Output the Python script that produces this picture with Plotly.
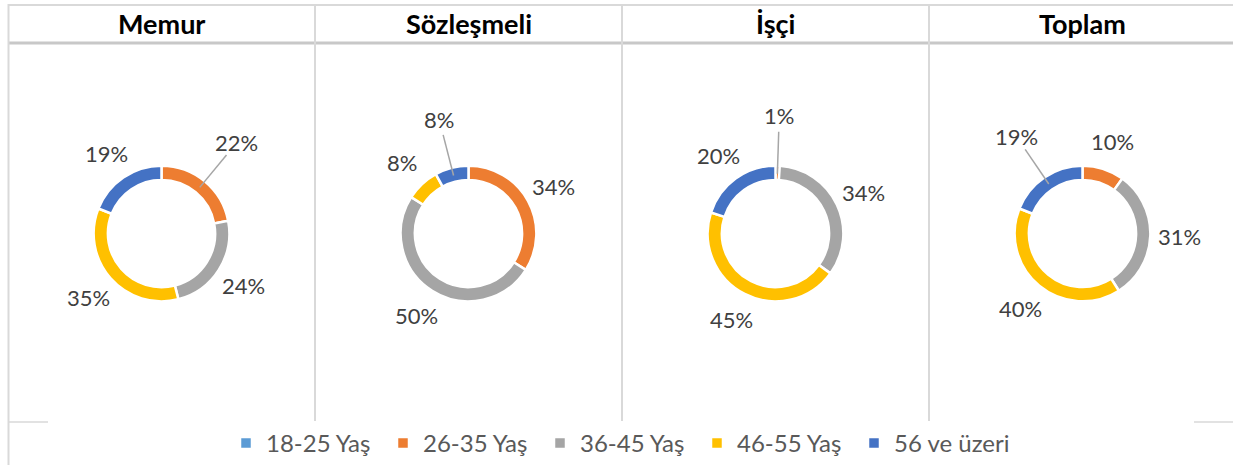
import math
import plotly.graph_objects as go

# ---------------- data ----------------
categories = ["18-25 Yaş", "26-35 Yaş", "36-45 Yaş", "46-55 Yaş", "56 ve üzeri"]
chart_titles = ["Memur", "Sözleşmeli", "İşçi", "Toplam"]
memur = [0, 22, 24, 35, 19]
sozlesmeli = [0, 34, 50, 8, 8]
isci = [0, 1, 34, 45, 20]
toplam = [0, 10, 31, 40, 19]
series = [memur, sozlesmeli, isci, toplam]

# ---------------- style ----------------
colors = ["#5B9BD5", "#ED7D31", "#A5A5A5", "#FFC000", "#4472C4"]
W, H = 1233, 466
FONT = "Lato"
col_edges = [8, 315, 622, 929, 1236]
donut_cy = 234
donut_r = 68
label_r = 97
leader_label_r = 118
# labels that Excel placed away from the ring, with a leader line
leaders = {(0, 1), (1, 4), (2, 1), (3, 4)}
grid_col = "#d9d9d9"


def px(x):
    return x / W


def py(y):
    return 1 - y / H


fig = go.Figure()
annotations = []
shapes = []

for i, (title, vals) in enumerate(zip(chart_titles, series)):
    cx = (col_edges[i] + col_edges[i + 1]) / 2
    fig.add_trace(go.Pie(
        labels=categories,
        values=vals,
        sort=False,
        direction="clockwise",
        rotation=0,
        hole=0.79,
        textinfo="none",
        hoverinfo="label+percent",
        marker=dict(colors=colors, line=dict(color="white", width=2.5)),
        domain=dict(x=[px(cx - donut_r), px(cx + donut_r)],
                    y=[py(donut_cy + donut_r), py(donut_cy - donut_r)]),
        name=title,
        legendgroup="g",
    ))
    # title
    annotations.append(dict(
        x=px(cx), y=py(24), xref="paper", yref="paper", text=f"<b>{title}</b>",
        showarrow=False, xanchor="center", yanchor="middle",
        font=dict(family=FONT, size=27, color="#000000")))
    # data labels computed from the values
    total = sum(vals)
    cum = 0
    for j, v in enumerate(vals):
        if v <= 0:
            cum += v
            continue
        mid = (cum + v / 2) / total * 2 * math.pi
        cum += v
        r = leader_label_r if (i, j) in leaders else label_r
        lx = cx + r * math.sin(mid)
        ly = donut_cy - r * math.cos(mid)
        annotations.append(dict(
            x=px(lx), y=py(ly), xref="paper", yref="paper",
            text=f"{round(v / total * 100)}%", showarrow=False,
            xanchor="center", yanchor="middle",
            font=dict(family=FONT, size=22, color="#404040")))
        if (i, j) in leaders:
            x0 = cx + 60 * math.sin(mid)
            y0 = donut_cy - 60 * math.cos(mid)
            x1 = cx + 102 * math.sin(mid)
            y1 = donut_cy - 102 * math.cos(mid)
            shapes.append(dict(type="line", xref="paper", yref="paper",
                               x0=px(x0), y0=py(y0), x1=px(x1), y1=py(y1),
                               line=dict(color="#a6a6a6", width=1.5)))

# table frame
shapes.append(dict(type="line", xref="paper", yref="paper",
                   x0=px(8), x1=px(1233), y0=py(5), y1=py(5),
                   line=dict(color=grid_col, width=2)))
shapes.append(dict(type="line", xref="paper", yref="paper",
                   x0=px(8), x1=px(1233), y0=py(43), y1=py(43),
                   line=dict(color="#c8c8c8", width=3)))
shapes.append(dict(type="line", xref="paper", yref="paper",
                   x0=px(8.5), x1=px(8.5), y0=py(4), y1=py(466),
                   line=dict(color=grid_col, width=2)))
for xe in col_edges[1:-1]:
    shapes.append(dict(type="line", xref="paper", yref="paper",
                       x0=px(xe), x1=px(xe), y0=py(4), y1=py(423),
                       line=dict(color=grid_col, width=2)))
    shapes.append(dict(type="line", xref="paper", yref="paper",
                       x0=px(xe - 37), x1=px(xe + 38), y0=py(423), y1=py(423),
                       line=dict(color=grid_col, width=1.5)))
shapes.append(dict(type="line", xref="paper", yref="paper",
                   x0=px(9), x1=px(48), y0=py(423), y1=py(423),
                   line=dict(color=grid_col, width=1.5)))
shapes.append(dict(type="line", xref="paper", yref="paper",
                   x0=px(1194), x1=px(1233), y0=py(423), y1=py(423),
                   line=dict(color=grid_col, width=1.5)))

fig.update_layout(
    width=W, height=H,
    margin=dict(l=0, r=0, t=0, b=0),
    paper_bgcolor="white",
    plot_bgcolor="white",
    font=dict(family=FONT),
    annotations=annotations,
    shapes=shapes,
    showlegend=True,
    legend=dict(orientation="h", x=px(226), xanchor="left",
                y=py(444), yanchor="middle", traceorder="normal",
                entrywidth=112, entrywidthmode="pixels",
                font=dict(family=FONT, size=24, color="#595959"),
                itemclick=False, itemdoubleclick=False),
)

fig.write_html("out.html",
               config={"displayModeBar": False},
               post_script="document.body.style.margin='0';"
                           "document.body.style.overflow='hidden';")
